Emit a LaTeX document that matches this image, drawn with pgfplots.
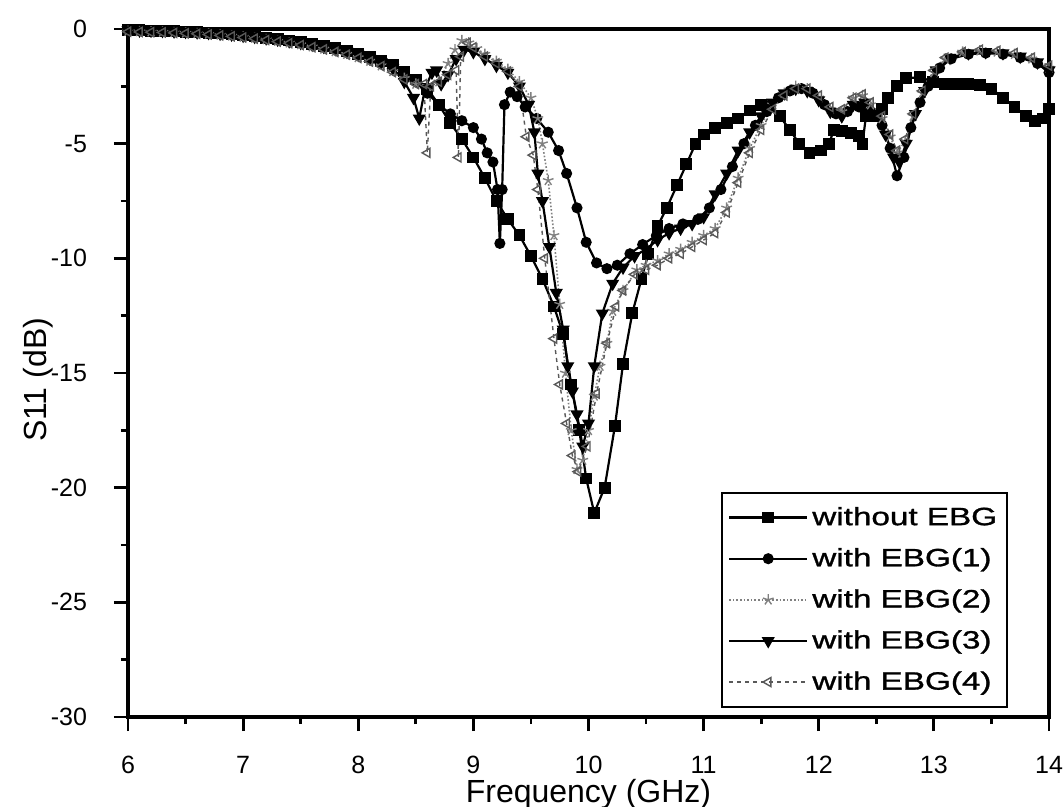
\documentclass[border=0pt]{standalone}
\usepackage{fontspec}
\setmainfont{Liberation Sans}
\newfontfamily\legendfont[FakeStretch=1.33,FakeBold=1.2]{Liberation Sans}
\usepackage{pgfplots}
\pgfplotsset{compat=1.18}
\begin{document}
\begin{tikzpicture}
\begin{axis}[
  name=ax,
  scale only axis,
  width=460.5pt, height=344pt,
  xmin=6, xmax=14, ymin=-30, ymax=0,
  xtick={6,7,8,9,10,11,12,13,14},
  xticklabels={6,7,8,9,10,11,12,13,14},
  ytick={-30,-25,-20,-15,-10,-5,0},
  yticklabels={-30,-25,-20,-15,-10,-5,0},
  minor x tick num=1, minor y tick num=1,
  tick align=outside, tick pos=left,
  major tick length=7pt, minor tick length=3.5pt,
  every tick/.style={line width=1.4pt, black},
  axis line style={line width=1.6pt},
  xticklabel style={font=\fontsize{12.5}{15}\selectfont, yshift=-9pt},
  yticklabel style={font=\fontsize{12.5}{15}\selectfont, xshift=-10pt},
  xlabel={Frequency (GHz)},
  ylabel={S11 (dB)},
  xlabel style={font=\fontsize{16}{18}\selectfont, at={(axis description cs:0.5,-0.1236)}, anchor=base},
  ylabel style={font=\fontsize{16}{18}\selectfont, at={(axis description cs:-0.088,0.49)}, anchor=base},
  legend style={at={(axis description cs:0.644,0.327)}, anchor=north west,
    draw=black, line width=1pt, font=\legendfont\fontsize{12.5}{15}\selectfont,
    row sep=6pt, inner xsep=3pt, inner ysep=5pt},
  legend cell align=left,
  legend image code/.code={\draw[mark repeat=2,mark phase=2,#1] plot coordinates {(0pt,0pt) (19.5pt,0pt) (39pt,0pt)};},
]
% without EBG
\addplot[black, line width=1.1pt, mark=square*, mark size=2.4pt] coordinates {
(6.0,-0.05) (6.1,-0.06) (6.2,-0.07) (6.3,-0.08) (6.4,-0.1) (6.5,-0.12) (6.6,-0.14) (6.7,-0.17) (6.8,-0.2) (6.9,-0.24)
(7.0,-0.28) (7.1,-0.33) (7.2,-0.38) (7.3,-0.44) (7.4,-0.5) (7.5,-0.57) (7.6,-0.65) (7.7,-0.74) (7.8,-0.84) (7.9,-0.95)
(8.0,-1.08) (8.1,-1.22) (8.2,-1.38) (8.3,-1.56) (8.4,-1.85) (8.5,-2.2) (8.6,-2.6) (8.7,-3.3) (8.8,-4.1) (8.9,-4.8)
(9.0,-5.6) (9.1,-6.5) (9.2,-7.5) (9.3,-8.3) (9.4,-9.0) (9.5,-9.9) (9.6,-10.9) (9.7,-12.1) (9.78,-13.3) (9.85,-15.5)
(9.92,-17.5) (9.98,-19.6) (10.05,-21.1) (10.14,-20.0) (10.23,-17.3) (10.3,-14.6) (10.38,-12.4) (10.46,-10.9) (10.52,-9.8)
(10.6,-8.6) (10.68,-7.8) (10.77,-6.8) (10.85,-5.9) (10.93,-5.0) (11.0,-4.6) (11.1,-4.3) (11.2,-4.1) (11.3,-3.9)
(11.4,-3.55) (11.5,-3.3) (11.58,-3.4) (11.66,-3.8) (11.75,-4.4) (11.83,-5.0) (11.92,-5.4) (12.02,-5.3) (12.09,-5.0)
(12.13,-4.4) (12.2,-4.45) (12.28,-4.55) (12.35,-4.65) (12.38,-5.0) (12.41,-3.8) (12.5,-3.8) (12.55,-3.5) (12.6,-3.0)
(12.68,-2.5) (12.76,-2.15) (12.88,-2.1) (12.99,-2.3) (13.1,-2.4) (13.2,-2.4) (13.3,-2.4) (13.4,-2.45) (13.5,-2.6)
(13.6,-3.0) (13.7,-3.4) (13.8,-3.8) (13.88,-4.0) (13.95,-3.9) (14.0,-3.5)
};
\addlegendentry{without EBG}
% with EBG(1)
\addplot[black, line width=1.1pt, mark=*, mark size=2.2pt] coordinates {
(6.0,-0.05) (6.1,-0.06) (6.2,-0.07) (6.3,-0.08) (6.4,-0.1) (6.5,-0.12) (6.6,-0.14) (6.7,-0.17) (6.8,-0.2) (6.9,-0.24)
(7.0,-0.29) (7.1,-0.34) (7.2,-0.39) (7.3,-0.45) (7.4,-0.52) (7.5,-0.59) (7.6,-0.67) (7.7,-0.76) (7.8,-0.86) (7.9,-0.97)
(8.0,-1.1) (8.1,-1.25) (8.2,-1.42) (8.3,-1.62) (8.4,-1.9) (8.5,-2.3) (8.6,-2.8) (8.7,-3.3) (8.8,-3.7) (8.9,-4.0)
(9.0,-4.3) (9.07,-4.8) (9.12,-5.4) (9.17,-5.8) (9.21,-7.0) (9.23,-9.35) (9.25,-7.0) (9.27,-3.3) (9.32,-2.75) (9.38,-2.95)
(9.45,-3.4) (9.55,-3.9) (9.65,-4.5) (9.74,-5.3) (9.81,-6.3) (9.9,-7.8) (9.98,-9.3) (10.07,-10.2) (10.16,-10.45)
(10.25,-10.3) (10.36,-9.8) (10.47,-9.4) (10.59,-9.0) (10.7,-8.7) (10.82,-8.5) (10.95,-8.3) (11.05,-7.8) (11.15,-7.0)
(11.25,-6.0) (11.35,-5.0) (11.45,-4.2) (11.55,-3.6) (11.65,-3.0) (11.75,-2.7) (11.85,-2.6) (11.95,-2.8) (12.05,-3.3)
(12.15,-3.7) (12.25,-3.6) (12.35,-3.4) (12.45,-3.6) (12.55,-4.2) (12.62,-5.2) (12.68,-6.4) (12.74,-5.6) (12.8,-4.3)
(12.88,-3.2) (12.95,-2.5) (13.05,-1.7) (13.15,-1.3) (13.3,-1.1) (13.45,-1.05) (13.6,-1.1) (13.75,-1.25) (13.9,-1.5) (14.0,-1.9)
};
\addlegendentry{with EBG(1)}
% with EBG(2)
\addplot[black!50, line width=0.8pt, densely dotted, mark=star, mark size=2.8pt, mark options={solid, line width=0.7pt}] coordinates {
(6.0,-0.1) (6.1,-0.11) (6.2,-0.12) (6.3,-0.13) (6.4,-0.15) (6.5,-0.17) (6.6,-0.19) (6.7,-0.22) (6.8,-0.26) (6.9,-0.3)
(7.0,-0.35) (7.1,-0.4) (7.2,-0.46) (7.3,-0.53) (7.4,-0.6) (7.5,-0.68) (7.6,-0.77) (7.7,-0.87) (7.8,-0.98) (7.9,-1.1)
(8.0,-1.24) (8.1,-1.4) (8.2,-1.6) (8.3,-1.85) (8.4,-2.15) (8.5,-2.4) (8.6,-2.5) (8.7,-2.3) (8.78,-1.5) (8.84,-0.9)
(8.9,-0.5) (8.96,-0.6) (9.03,-0.85) (9.1,-1.1) (9.2,-1.4) (9.3,-1.75) (9.4,-2.3) (9.5,-3.0) (9.56,-3.9) (9.6,-5.0)
(9.65,-6.6) (9.7,-9.0) (9.75,-12.0) (9.8,-15.0) (9.85,-17.5) (9.9,-19.2) (9.95,-18.8) (10.0,-17.5) (10.05,-16.0)
(10.1,-14.7) (10.16,-13.7) (10.21,-12.3) (10.3,-11.4) (10.42,-10.5) (10.5,-10.3) (10.6,-10.1) (10.7,-9.8) (10.8,-9.6)
(10.9,-9.3) (11.0,-9.0) (11.1,-8.7) (11.2,-7.8) (11.3,-6.5) (11.4,-5.2) (11.5,-4.2) (11.6,-3.3) (11.7,-2.8) (11.8,-2.5)
(11.9,-2.6) (12.0,-3.0) (12.1,-3.5) (12.2,-3.6) (12.3,-3.0) (12.38,-2.9) (12.45,-3.3) (12.55,-3.9) (12.62,-4.7)
(12.68,-5.4) (12.75,-4.9) (12.82,-3.8) (12.9,-2.8) (13.0,-1.9) (13.1,-1.3) (13.25,-1.0) (13.4,-0.95) (13.55,-1.0)
(13.7,-1.1) (13.85,-1.3) (14.0,-1.7)
};
\addlegendentry{with EBG(2)}
% with EBG(3)
\addplot[black, line width=1.1pt, mark=triangle*, mark size=2.7pt, mark options={rotate=180}] coordinates {
(6.0,-0.05) (6.1,-0.06) (6.2,-0.07) (6.3,-0.08) (6.4,-0.1) (6.5,-0.12) (6.6,-0.14) (6.7,-0.17) (6.8,-0.2) (6.9,-0.24)
(7.0,-0.29) (7.1,-0.34) (7.2,-0.4) (7.3,-0.46) (7.4,-0.53) (7.5,-0.6) (7.6,-0.68) (7.7,-0.77) (7.8,-0.87) (7.9,-0.98)
(8.0,-1.12) (8.1,-1.28) (8.2,-1.45) (8.3,-1.7) (8.4,-2.3) (8.48,-3.0) (8.53,-3.9) (8.58,-2.6) (8.64,-1.9) (8.68,-1.8)
(8.72,-2.4) (8.78,-2.0) (8.85,-1.3) (8.92,-0.9) (9.0,-1.0) (9.1,-1.3) (9.2,-1.6) (9.3,-1.9) (9.4,-2.5) (9.48,-3.3)
(9.53,-4.5) (9.56,-6.3) (9.6,-7.5) (9.66,-9.5) (9.72,-11.5) (9.78,-13.1) (9.82,-14.7) (9.86,-15.8) (9.9,-16.8)
(9.95,-18.2) (10.0,-17.2) (10.05,-14.7) (10.12,-12.4) (10.21,-11.1) (10.3,-10.4) (10.4,-9.9) (10.5,-9.6) (10.6,-9.2)
(10.7,-8.9) (10.8,-8.7) (10.9,-8.5) (11.0,-8.2) (11.1,-7.2) (11.2,-6.3) (11.3,-5.3) (11.4,-4.5) (11.5,-3.8) (11.6,-3.2)
(11.7,-2.8) (11.8,-2.6) (11.9,-2.7) (12.0,-3.1) (12.1,-3.6) (12.2,-3.8) (12.3,-3.3) (12.4,-3.2) (12.5,-3.7) (12.58,-4.6)
(12.65,-5.6) (12.7,-5.8) (12.76,-5.0) (12.84,-3.7) (12.92,-2.7) (13.02,-1.8) (13.14,-1.25) (13.3,-1.05) (13.45,-1.0)
(13.6,-1.05) (13.75,-1.2) (13.9,-1.45) (14.0,-1.8)
};
\addlegendentry{with EBG(3)}
% with EBG(4)
\addplot[black!65, line width=0.7pt, dash pattern=on 2pt off 2pt, mark=triangle, mark size=2.6pt, mark options={rotate=90, solid, line width=0.7pt}] coordinates {
(6.0,-0.12) (6.1,-0.13) (6.2,-0.14) (6.3,-0.15) (6.4,-0.17) (6.5,-0.19) (6.6,-0.21) (6.7,-0.24) (6.8,-0.28) (6.9,-0.32)
(7.0,-0.37) (7.1,-0.42) (7.2,-0.48) (7.3,-0.55) (7.4,-0.62) (7.5,-0.7) (7.6,-0.79) (7.7,-0.89) (7.8,-1.0) (7.9,-1.12)
(8.0,-1.26) (8.1,-1.42) (8.2,-1.62) (8.3,-1.88) (8.4,-2.2) (8.5,-2.4) (8.57,-2.4) (8.6,-5.4) (8.63,-2.5) (8.7,-2.3)
(8.78,-2.0) (8.85,-1.8) (8.87,-5.6) (8.89,-1.2) (8.95,-0.6) (9.0,-0.8) (9.1,-1.2) (9.2,-1.5) (9.3,-1.85) (9.4,-2.5)
(9.46,-4.7) (9.52,-5.5) (9.56,-7.0) (9.62,-10.0) (9.7,-13.5) (9.75,-15.5) (9.81,-17.2) (9.86,-18.6) (9.91,-19.3)
(9.99,-18.2) (10.07,-15.9) (10.16,-13.7) (10.24,-12.1) (10.3,-11.4) (10.4,-10.7) (10.5,-10.5) (10.6,-10.3) (10.7,-10.0)
(10.8,-9.8) (10.9,-9.5) (11.0,-9.2) (11.1,-8.9) (11.2,-8.0) (11.3,-6.7) (11.4,-5.4) (11.5,-4.4) (11.6,-3.5) (11.7,-2.9)
(11.8,-2.6) (11.9,-2.6) (12.0,-2.9) (12.1,-3.4) (12.2,-3.5) (12.3,-3.0) (12.38,-2.85) (12.45,-3.2) (12.55,-3.8)
(12.62,-4.6) (12.68,-5.3) (12.75,-4.8) (12.82,-3.7) (12.9,-2.7) (13.0,-1.8) (13.1,-1.25) (13.25,-1.0) (13.4,-0.9)
(13.55,-0.95) (13.7,-1.05) (13.85,-1.25) (14.0,-1.6)
};
\addlegendentry{with EBG(4)}
\end{axis}
\pgfresetboundingbox
\path (-64pt,-45pt) rectangle (468pt,358.5pt);
\end{tikzpicture}
\end{document}
